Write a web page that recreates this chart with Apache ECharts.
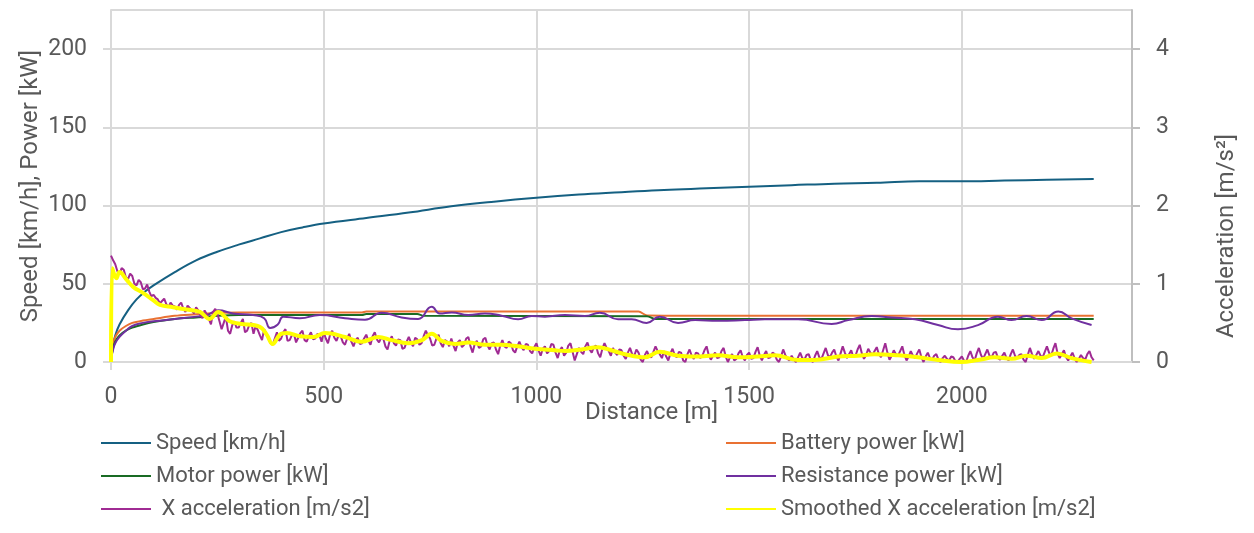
<!DOCTYPE html>
<html>
<head>
<meta charset="utf-8">
<script src="https://cdn.jsdelivr.net/npm/echarts@6/dist/echarts.min.js"></script>
<style>
    body { margin: 0; padding: 0; background: #ffffff; }
    #content { width: 1254px; height: 533px; }
</style>
</head>
<body>
<div id="content"></div>
<script type="text/javascript">
    // tick labels
    var leftTicks = [0, 50, 100, 150, 200];
    var rightTicks = [0, 1, 2, 3, 4];
    var distTicks = [0, 500, 1000, 1500, 2000];

    // Speed [km/h]
    var speedDist = [0, 10, 20, 40, 60, 80, 100, 150, 200, 250, 300, 350, 400, 450, 500, 600, 700, 800, 900, 1000, 1100, 1200, 1300, 1400, 1500, 1600, 1700, 1800, 1900, 2000, 2100, 2200, 2310];
    var speedVals = [5, 17, 24, 33, 40, 45, 49, 57.5, 65, 70.5, 75, 79, 83, 86, 88.5, 92, 95.5, 99.5, 102.5, 105, 107, 108.5, 110, 111, 112, 113, 114, 114.5, 115.5, 115.5, 116, 116.5, 117];

    // Battery power [kW]
    var batDist = [0, 5, 10, 20, 35, 50, 75, 100, 150, 200, 250, 300, 590, 600, 1240, 1260, 1500, 2000, 2310];
    var batVals = [3, 12, 16, 20, 23, 25, 26.5, 27.5, 29.5, 30.5, 31.5, 31.7, 31.7, 32.2, 32.2, 29.8, 29.5, 29.5, 29.5];

    // Motor power [kW]
    var motDist = [0, 5, 10, 20, 35, 50, 75, 100, 150, 200, 250, 300, 590, 600, 720, 735, 1260, 1280, 2310];
    var motVals = [2, 9, 13, 17, 20, 22, 24, 25.5, 27.5, 28.5, 29.5, 30, 30, 30.7, 30.7, 29.5, 29.3, 27.5, 27.5];

    // Resistance power [kW]
    var resDist = [0, 5, 10, 20, 35, 50, 75, 100, 150, 200, 225, 252, 287, 334, 360, 374, 392, 405, 444, 491, 550, 597, 636, 683, 722, 754, 773, 801, 840, 879, 918, 957, 989, 1020, 1067, 1114, 1149, 1192, 1224, 1259, 1290, 1333, 1373, 1427, 1490, 1537, 1615, 1694, 1733, 1788, 1835, 1890, 1944, 1991, 2038, 2085, 2117, 2152, 2188, 2227, 2258, 2305];
    var resVals = [2, 8, 12, 16, 20, 23, 25, 26, 27.5, 29, 30, 33, 31, 30, 28, 21.7, 24, 29, 28, 30, 28, 27, 31.5, 28.5, 27.5, 35.3, 31, 31.7, 30, 31, 29.6, 27.3, 29.4, 29, 30, 29.4, 31.5, 27.3, 27.3, 25, 29, 25, 26.8, 26.4, 26.8, 27.3, 27.3, 24.3, 26.8, 29.4, 28.5, 27.3, 23.6, 20.9, 23.6, 29, 26.8, 29.4, 26.8, 32.2, 27.9, 23.6];

    // X acceleration [m/s2], one reading every 5 m from 0 to 2310 m
    var accStep = 5;
    var accVals = [
        1.36, 1.30, 1.25, 1.16, 1.12, 1.20, 1.18, 1.08, 1.06, 1.13, 1.10, 1.00, 0.98, 1.05, 1.02, 0.93, 0.94, 0.99, 0.90, 0.84,
        0.86, 0.82, 0.80, 0.75, 0.78, 0.81, 0.74, 0.70, 0.76, 0.72, 0.71, 0.67, 0.73, 0.76, 0.68, 0.64, 0.72, 0.69, 0.66, 0.62,
        0.70, 0.66, 0.60, 0.56, 0.66, 0.61, 0.55, 0.48, 0.64, 0.68, 0.62, 0.52, 0.42, 0.50, 0.58, 0.40, 0.36, 0.47, 0.52, 0.44,
        0.44, 0.50, 0.55, 0.38, 0.40, 0.47, 0.50, 0.36, 0.46, 0.41, 0.34, 0.28, 0.42, 0.36, 0.30, 0.24, 0.22, 0.30, 0.38, 0.27,
        0.30, 0.38, 0.42, 0.27, 0.28, 0.34, 0.36, 0.25, 0.31, 0.37, 0.40, 0.28, 0.26, 0.33, 0.38, 0.29, 0.30, 0.36, 0.34, 0.26,
        0.38, 0.30, 0.24, 0.35, 0.40, 0.31, 0.27, 0.34, 0.33, 0.25, 0.22, 0.30, 0.36, 0.26, 0.20, 0.28, 0.31, 0.23, 0.24, 0.30,
        0.35, 0.27, 0.22, 0.33, 0.38, 0.29, 0.25, 0.31, 0.30, 0.20, 0.16, 0.27, 0.33, 0.24, 0.21, 0.29, 0.28, 0.17, 0.18, 0.26,
        0.32, 0.25, 0.20, 0.31, 0.29, 0.22, 0.24, 0.33, 0.40, 0.34, 0.30, 0.21, 0.22, 0.30, 0.35, 0.24, 0.19, 0.28, 0.26, 0.20,
        0.30, 0.21, 0.14, 0.25, 0.28, 0.19, 0.22, 0.30, 0.32, 0.20, 0.12, 0.23, 0.27, 0.18, 0.20, 0.29, 0.31, 0.21, 0.16, 0.24,
        0.25, 0.16, 0.10, 0.21, 0.28, 0.20, 0.18, 0.26, 0.24, 0.15, 0.12, 0.20, 0.26, 0.19, 0.15, 0.23, 0.22, 0.14, 0.11, 0.19,
        0.24, 0.15, 0.08, 0.17, 0.20, 0.11, 0.14, 0.23, 0.22, 0.12, 0.05, 0.15, 0.19, 0.08, 0.12, 0.21, 0.24, 0.13, 0.02, 0.10,
        0.18, 0.13, 0.10, 0.20, 0.25, 0.16, 0.12, 0.19, 0.21, 0.11, 0.06, 0.17, 0.24, 0.18, 0.14, 0.08, 0.18, 0.12, 0.09, 0.16,
        0.15, 0.08, 0.04, 0.12, 0.18, 0.10, 0.08, 0.16, 0.12, 0.03, 0.00, 0.09, 0.14, 0.07, 0.06, 0.13, 0.20, 0.14, 0.10, 0.05,
        0.14, 0.07, 0.02, 0.11, 0.17, 0.09, 0.06, 0.13, 0.12, 0.02, 0.00, 0.10, 0.16, 0.08, 0.04, 0.12, 0.11, 0.05, 0.08, 0.15,
        0.20, 0.09, 0.03, 0.08, 0.12, 0.05, 0.06, 0.14, 0.18, 0.07, 0.00, 0.06, 0.10, 0.02, 0.04, 0.11, 0.15, 0.06, 0.02, 0.09,
        0.12, 0.04, 0.05, 0.13, 0.19, 0.08, 0.02, 0.09, 0.14, 0.05, 0.06, 0.12, 0.10, 0.03, 0.00, 0.07, 0.16, 0.09, 0.04, 0.02,
        0.08, 0.03, 0.00, 0.06, 0.12, 0.05, 0.03, 0.09, 0.10, 0.02, 0.00, 0.08, 0.14, 0.06, 0.04, 0.11, 0.18, 0.09, 0.06, 0.12,
        0.16, 0.07, 0.02, 0.11, 0.20, 0.12, 0.05, 0.10, 0.15, 0.06, 0.08, 0.16, 0.22, 0.11, 0.04, 0.09, 0.17, 0.12, 0.09, 0.14,
        0.19, 0.10, 0.06, 0.15, 0.24, 0.12, 0.03, 0.08, 0.15, 0.10, 0.08, 0.14, 0.20, 0.09, 0.02, 0.07, 0.14, 0.08, 0.05, 0.11,
        0.16, 0.06, 0.00, 0.07, 0.12, 0.05, 0.03, 0.08, 0.10, 0.03, 0.00, 0.05, 0.08, 0.04, 0.02, 0.07, 0.06, 0.01, 0.00, 0.04,
        0.07, 0.02, 0.00, 0.08, 0.14, 0.06, 0.02, 0.11, 0.18, 0.09, 0.04, 0.10, 0.16, 0.08, 0.06, 0.12, 0.13, 0.05, 0.03, 0.08,
        0.12, 0.05, 0.02, 0.10, 0.16, 0.08, 0.05, 0.09, 0.10, 0.03, 0.00, 0.09, 0.18, 0.10, 0.04, 0.09, 0.14, 0.08, 0.06, 0.13,
        0.20, 0.12, 0.08, 0.17, 0.24, 0.11, 0.05, 0.10, 0.15, 0.06, 0.02, 0.07, 0.12, 0.05, 0.00, 0.04, 0.09, 0.05, 0.03, 0.10,
        0.14, 0.06, 0.02
    ];

    // Smoothed X acceleration [m/s2]
    var smDist = [0, 3, 13, 20, 37, 52, 76, 99, 115, 146, 178, 209, 232, 252, 279, 303, 350, 366, 380, 397, 413, 444, 476, 503, 550, 589, 628, 660, 699, 731, 754, 777, 809, 840, 879, 918, 957, 997, 1043, 1067, 1106, 1145, 1176, 1208, 1255, 1290, 1333, 1373, 1427, 1474, 1521, 1560, 1615, 1654, 1709, 1756, 1795, 1850, 1897, 1944, 1999, 2038, 2078, 2117, 2152, 2188, 2223, 2258, 2305];
    var smVals = [0, 1.2, 1.07, 1.15, 1.05, 0.96, 0.88, 0.79, 0.73, 0.70, 0.67, 0.64, 0.55, 0.64, 0.52, 0.49, 0.45, 0.35, 0.23, 0.35, 0.37, 0.33, 0.32, 0.37, 0.32, 0.26, 0.32, 0.28, 0.24, 0.28, 0.36, 0.27, 0.23, 0.25, 0.22, 0.22, 0.20, 0.17, 0.15, 0.14, 0.16, 0.19, 0.15, 0.10, 0.06, 0.13, 0.08, 0.07, 0.085, 0.06, 0.07, 0.085, 0.025, 0.025, 0.07, 0.08, 0.10, 0.085, 0.06, 0.025, 0.0, 0.025, 0.06, 0.04, 0.08, 0.05, 0.11, 0.05, 0.0];

    function pairs(xs, ys) {
        var out = [];
        for (var i = 0; i < ys.length; i++) out.push([xs[i], ys[i]]);
        return out;
    }
    var accData = [];
    for (var c = 0; c < accVals.length; c++) accData.push([c * accStep, accVals[c]]);

    var font = 'Roboto, "Noto Sans", sans-serif';
    var txt = '#595959';
    var grid = '#d9d9d9';

    var legendBase = {
        top: 431, orient: 'vertical', padding: 0,
        itemWidth: 50, itemHeight: 14, itemGap: 9,
        selectedMode: false,
        itemStyle: { opacity: 0 },
        textStyle: { fontSize: 22, lineHeight: 24, color: txt, fontFamily: font }
    };

    var chart = echarts.init(document.getElementById('content'));
    var option = {
        animation: false,
        backgroundColor: '#ffffff',
        textStyle: { fontFamily: font },
        grid: { left: 111, right: 122, top: 10, bottom: 171 },
        legend: [
            Object.assign({}, legendBase, { left: 100, data: ['Speed [km/h]', 'Motor power [kW]', ' X acceleration [m/s2]'] }),
            Object.assign({}, legendBase, { left: 725, data: ['Battery power [kW]', 'Resistance power [kW]', 'Smoothed X acceleration [m/s2]'] })
        ],
        xAxis: {
            type: 'value', min: 0, max: 2400, interval: 500,
            name: 'Distance [m]', nameLocation: 'middle', nameGap: 39, nameMoveOverlap: false,
            nameTextStyle: { fontSize: 24, color: txt, padding: [0, 0, 0, 60] },
            axisLine: { show: true, lineStyle: { color: grid, width: 2 } },
            axisTick: { show: true, length: 8, lineStyle: { color: grid, width: 2 } },
            axisLabel: { fontSize: 23, color: txt, margin: 24, showMaxLabel: false,
                formatter: function (v) { return distTicks.indexOf(v) >= 0 ? String(v) : ''; } },
            splitLine: { show: true, lineStyle: { color: grid, width: 2 } }
        },
        yAxis: [{
            type: 'value', min: 0, max: 225, interval: 50,
            name: 'Speed [km/h], Power [kW]', nameLocation: 'middle', nameGap: 68, nameMoveOverlap: false,
            nameTextStyle: { fontSize: 24, color: txt },
            axisLine: { show: true, lineStyle: { color: grid, width: 2 } },
            axisTick: { show: true, length: 8, lineStyle: { color: grid, width: 2 } },
            axisLabel: { fontSize: 23, color: txt, margin: 24, showMaxLabel: false,
                formatter: function (v) { return leftTicks.indexOf(v) >= 0 ? String(v) : ''; } },
            splitLine: { show: true, lineStyle: { color: grid, width: 2 } }
        }, {
            type: 'value', min: 0, max: 4.5, interval: 1, position: 'right',
            name: 'Acceleration [m/s\u00B2]', nameLocation: 'middle', nameGap: 83, nameMoveOverlap: false,
            nameTextStyle: { fontSize: 24, color: txt, padding: [0, 100, 0, 0] },
            axisLine: { show: true, lineStyle: { color: '#bfbfbf', width: 2 } },
            axisTick: { show: true, length: 8, lineStyle: { color: '#bfbfbf', width: 2 } },
            axisLabel: { fontSize: 23, color: txt, margin: 24, showMaxLabel: false,
                formatter: function (v) { return rightTicks.indexOf(v) >= 0 ? String(v) : ''; } },
            splitLine: { show: false }
        }],
        series: [{
            name: 'Speed [km/h]', type: 'line', yAxisIndex: 0, symbol: 'none', smooth: 0.4,
            lineStyle: { color: '#156082', width: 2 }, itemStyle: { color: '#156082' },
            data: pairs(speedDist, speedVals)
        }, {
            name: 'Battery power [kW]', type: 'line', yAxisIndex: 0, symbol: 'none', smooth: 0.3,
            lineStyle: { color: '#E97132', width: 2 }, itemStyle: { color: '#E97132' },
            data: pairs(batDist, batVals)
        }, {
            name: 'Motor power [kW]', type: 'line', yAxisIndex: 0, symbol: 'none', smooth: 0.3,
            lineStyle: { color: '#196B24', width: 2 }, itemStyle: { color: '#196B24' },
            data: pairs(motDist, motVals)
        }, {
            name: 'Resistance power [kW]', type: 'line', yAxisIndex: 0, symbol: 'none', smooth: 0.5,
            lineStyle: { color: '#7030A0', width: 2 }, itemStyle: { color: '#7030A0' },
            data: pairs(resDist, resVals)
        }, {
            name: ' X acceleration [m/s2]', type: 'line', yAxisIndex: 1, symbol: 'none',
            lineStyle: { color: '#A02B93', width: 2 }, itemStyle: { color: '#A02B93' },
            data: accData
        }, {
            name: 'Smoothed X acceleration [m/s2]', type: 'line', yAxisIndex: 1, symbol: 'none', smooth: 0.4,
            lineStyle: { color: '#FFFF00', width: 4 }, itemStyle: { color: '#FFFF00' },
            data: pairs(smDist, smVals)
        }]
    };
    chart.setOption(option);
</script>
</body>
</html>
